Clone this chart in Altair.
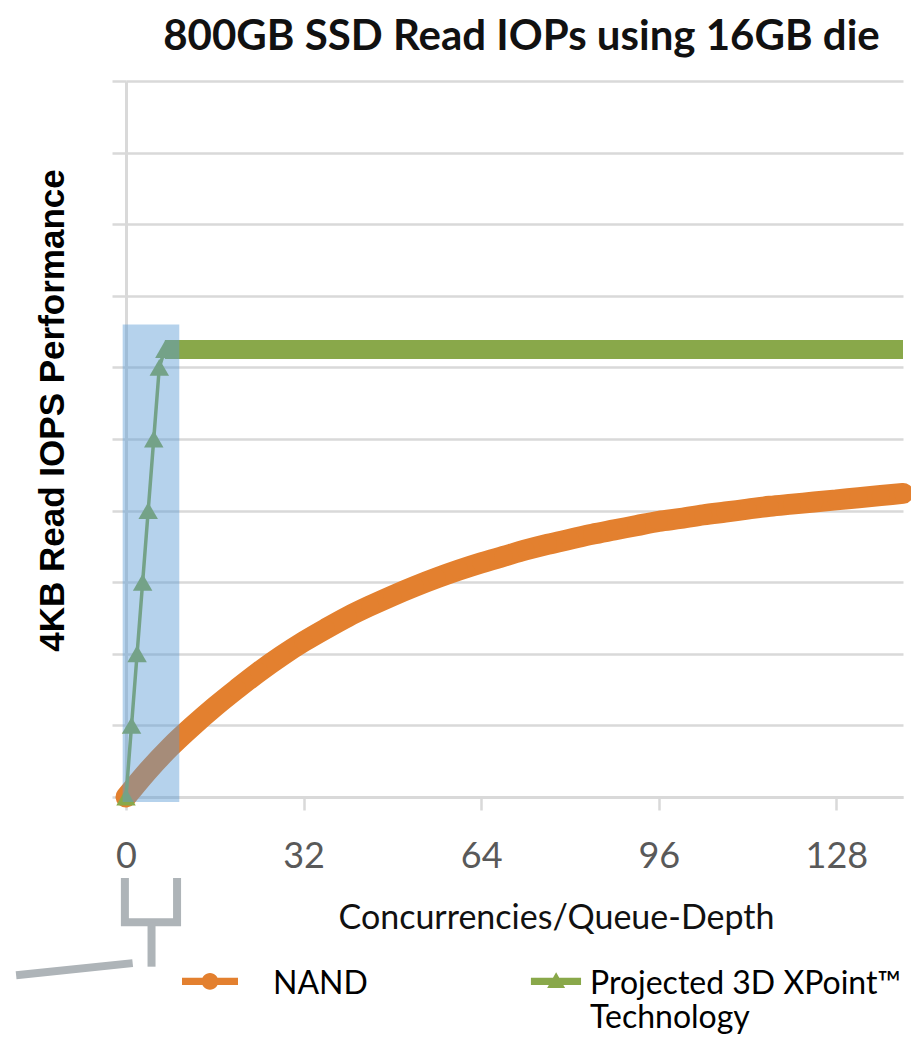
import altair as alt
import pandas as pd

# ---- data ----
series_names = ["NAND", "Projected 3D XPoint™ Technology"]
series_colors = ["#e3802f", "#89a84a"]

nand_qd = [0, 4, 8, 12, 16, 20, 24, 28, 32, 36, 40, 44, 48, 52, 56, 60, 64, 68,
           72, 76, 80, 84, 88, 92, 96, 100, 104, 108, 112, 116, 120, 124, 128,
           132, 136, 140]
nand_iops = [0.0, 0.37, 0.70, 0.99, 1.26, 1.51, 1.75, 1.97, 2.17, 2.35, 2.52,
             2.67, 2.81, 2.94, 3.06, 3.17, 3.27, 3.36, 3.45, 3.53, 3.60, 3.67,
             3.73, 3.79, 3.85, 3.89, 3.94, 3.98, 4.02, 4.06, 4.09, 4.12, 4.15,
             4.18, 4.21, 4.24]

xp_qd = [0, 1, 2, 3, 4, 5, 6, 7, 140]
xp_iops = [0, 1, 2, 3, 4, 5, 6, 6.25, 6.25]
xp_marker_qd_max = 7

x_ticks = [0, 32, 64, 96, 128]

highlight_qd = [-0.6, 9.6]
highlight_iops = [-0.07, 6.6]

bracket_seg = ["a", "a", "a", "a", "b", "b", "c", "c"]
bracket_qd = [-0.2, -0.2, 9.2, 9.2, 4.6, 4.6, -19.8, 1.2]
bracket_iops = [-1.13, -1.75, -1.75, -1.13, -1.75, -2.37, -2.49, -2.32]

# ---- tables ----
nand_df = pd.DataFrame({"qd": nand_qd, "iops": nand_iops, "series": series_names[0]})
xp_df = pd.DataFrame({"qd": xp_qd, "iops": xp_iops, "series": series_names[1]})
xp_pts_df = xp_df[xp_df["qd"] <= xp_marker_qd_max]
band_df = xp_df[xp_df["qd"] >= xp_marker_qd_max]
legend_df = pd.DataFrame({"qd": [0, 0], "iops": [0, 0], "series": series_names})
rect_df = pd.DataFrame({"x1": [highlight_qd[0]], "x2": [highlight_qd[1]],
                        "y1": [highlight_iops[0]], "y2": [highlight_iops[1]]})
br_df = pd.DataFrame({"seg": bracket_seg, "qd": bracket_qd, "iops": bracket_iops,
                      "ord": list(range(len(bracket_qd)))})

GRID = "#d9d9d9"
xscale = alt.Scale(domain=[0, 140], nice=False)
yscale = alt.Scale(domain=[0, 10], nice=False)

x_axis = alt.Axis(values=x_ticks, title="Concurrencies/Queue-Depth", grid=False,
                  domainColor=GRID, domainWidth=3, tickColor=GRID, tickWidth=2.5,
                  tickSize=13, labelFont="Lato", labelFontSize=36, labelColor="#595959",
                  labelBaseline="alphabetic", labelPadding=57, labelFlush=False,
                  titleFont="Lato", titleFontSize=34, titleFontWeight="normal",
                  titleColor="#111111", titleX=430, titleY=131,
                  titleBaseline="alphabetic", titleAlign="center")
y_axis = alt.Axis(tickCount=10, labels=False, title="4KB Read IOPS Performance",
                  grid=True, gridColor=GRID, gridWidth=2.5, domainColor=GRID,
                  domainWidth=3, tickColor=GRID, tickWidth=2.5, tickSize=14,
                  titleFont="Liberation Sans", titleFontSize=35, titleFontWeight="bold",
                  titleColor="#000000", titleX=-63, titleY=329,
                  titleBaseline="alphabetic", titleAlign="center", titleAngle=270)

X = alt.X("qd:Q", scale=xscale, axis=x_axis)
Y = alt.Y("iops:Q", scale=yscale, axis=y_axis)

nand_line = alt.Chart(nand_df).mark_line(
    strokeWidth=21, strokeCap="round", strokeJoin="round", interpolate="monotone",
    color=series_colors[0]).encode(x=X, y=Y)

nand_pts = alt.Chart(nand_df).mark_circle(size=330, opacity=1,
                                          color=series_colors[0]).encode(
    x=alt.X("qd:Q"), y=alt.Y("iops:Q"))

xp_line = alt.Chart(xp_df).mark_line(strokeWidth=3.5, color=series_colors[1]).encode(
    x=alt.X("qd:Q"), y=alt.Y("iops:Q"))

xp_band = alt.Chart(band_df).mark_line(strokeWidth=19, strokeCap="butt",
                                       color=series_colors[1]).encode(
    x=alt.X("qd:Q"), y=alt.Y("iops:Q"))

xp_pts = alt.Chart(xp_pts_df).mark_point(shape="triangle-up", filled=True, size=380,
                                         opacity=1, strokeWidth=0,
                                         color=series_colors[1]).encode(
    x=alt.X("qd:Q"), y=alt.Y("iops:Q"))

circle_path = ("M-1,0.31 H1 V0.57 H-1 Z "
               "M0.3,0.44 A0.3,0.3 0 1,1 -0.3,0.44 A0.3,0.3 0 1,1 0.3,0.44 Z")
tri_path = ("M0.14,0.31 H1.93 V0.57 H0.14 Z "
            "M1.04,0.12 L1.36,0.68 L0.72,0.68 Z")

legend = alt.Legend(
    orient="none", legendX=56, legendY=860, direction="horizontal", title=None,
    symbolSize=3136, symbolStrokeWidth=0, symbolOpacity=1,
    symbolType=alt.ExprRef(expr=f"datum.value == 'NAND' ? '{circle_path}' : '{tri_path}'"),
    labelFont="Lato", labelFontSize=32, labelColor="#000000", labelOffset=35,
    columnPadding=131, labelBaseline="top", labelLimit=500, padding=0,
    labelExpr=("datum.label == 'NAND' ? ['NAND', ' '] : "
               "['Projected 3D XPoint™', 'Technology']"))

legend_layer = alt.Chart(legend_df).transform_filter("datum.qd < 0").mark_point(
    filled=True).encode(
    x=alt.X("qd:Q"), y=alt.Y("iops:Q"),
    color=alt.Color("series:N", scale=alt.Scale(domain=series_names, range=series_colors),
                    legend=legend))

highlight = alt.Chart(rect_df).mark_rect(color="#5b9bd5", opacity=0.45).encode(
    x=alt.X("x1:Q"), x2="x2:Q", y=alt.Y("y1:Q"), y2="y2:Q")

bracket = alt.Chart(br_df).mark_line(strokeWidth=8, color="#aeb4b8",
                                     strokeJoin="miter", strokeCap="butt").encode(
    x=alt.X("qd:Q"), y=alt.Y("iops:Q"), detail="seg:N", order="ord:Q")

chart = alt.layer(nand_line, nand_pts, xp_line, xp_band, xp_pts, legend_layer,
                  highlight, bracket).properties(
    width=777, height=716,
    title=alt.TitleParams("800GB SSD Read IOPs using 16GB die", font="Lato",
                          fontSize=42, fontWeight="bold", color="#111111",
                          anchor="middle", frame="group", offset=31,
                          baseline="alphabetic", dx=7, dy=43),
    autosize=alt.AutoSizeParams(type="none"),
    padding={"left": 126, "top": 81, "right": 8, "bottom": 241},
    background="white",
).configure_view(stroke=None)

chart.save("out.html", embed_options={"renderer": "svg", "actions": False})
